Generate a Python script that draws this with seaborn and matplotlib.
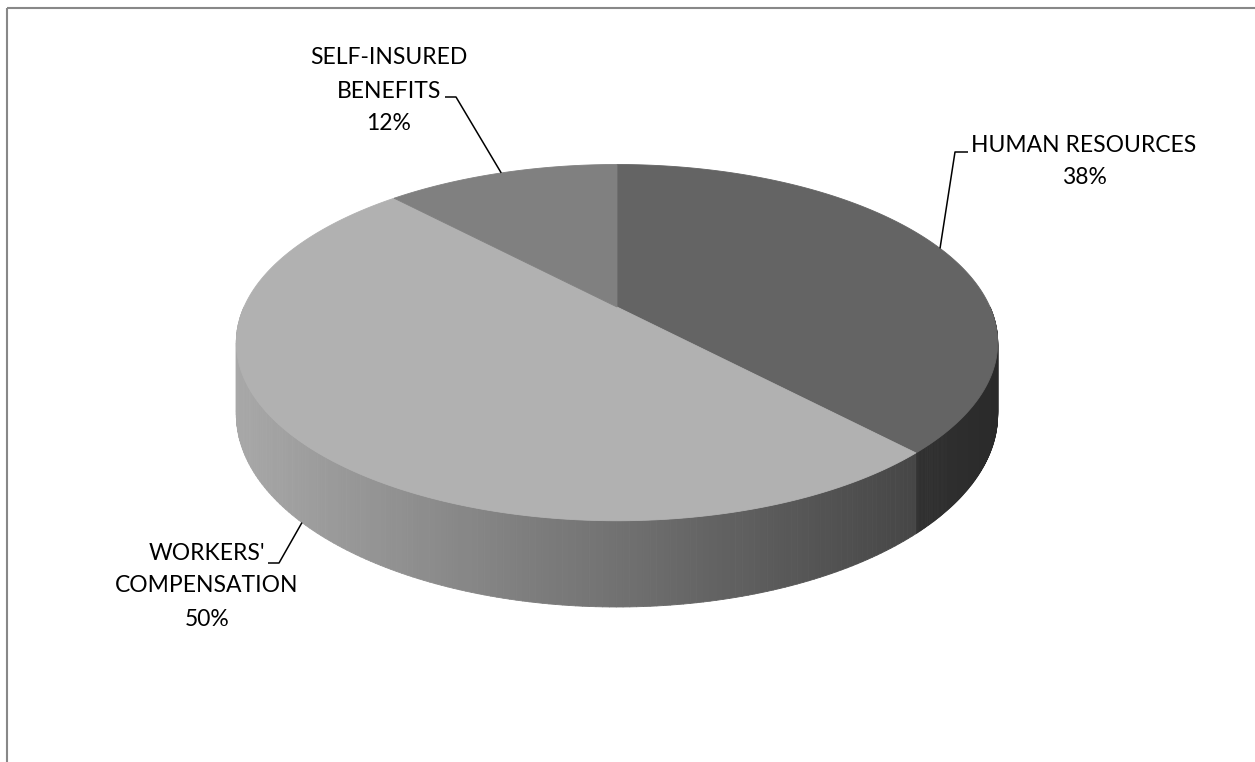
import numpy as np
import matplotlib
matplotlib.use("Agg")
import matplotlib.pyplot as plt
import seaborn as sns
from matplotlib.patches import Polygon, Rectangle
from matplotlib.collections import PolyCollection

# Budget split by program area
categories = ["HUMAN RESOURCES", "WORKERS' COMPENSATION", "SELF-INSURED BENEFITS"]
label_lines = [["HUMAN RESOURCES"], ["WORKERS'", "COMPENSATION"], ["SELF-INSURED", "BENEFITS"]]
shares = [38, 50, 12]

# Styling per slice: top face gray, side gradient (left gray, right gray)
top_colors = ["#646464", "#b1b1b1", "#808080"]
side_grays = [(0x31, 0x2a), (0xa8, 0x46), (0x70, 0x60)]

sns.set_theme(style="white")
plt.rcParams["font.family"] = ["Lato", "DejaVu Sans"]

W, H = 1255, 762
fig = plt.figure(figsize=(W / 100, H / 100), dpi=100)
ax = fig.add_axes([0, 0, 1, 1])
ax.set_xlim(0, W)
ax.set_ylim(H, 0)
ax.axis("off")

# Perspective-projected disc: centre, half-axes, perspective factor, thickness
CX, CY, A, B, K, D0 = 617, 307, 373, 171, 0.2, 69


def top_pt(t):
    s = 1 + K * np.sin(t)
    return CX + A * np.cos(t) / s, CY - B * np.sin(t) / s


def bottom_pt(t):
    x, y = top_pt(t)
    return x, y + D0 / (1 + K * np.sin(t))


total = float(sum(shares))
starts, ends = [], []
acc = 0.0
for v in shares:
    t0 = np.pi / 2 - 2 * np.pi * acc / total
    t1 = t0 - 2 * np.pi * v / total
    starts.append(t0)
    ends.append(t1)
    acc += v

# Side walls (only the front half of the disc is visible)
for i in range(len(shares)):
    lo_s, hi_s = ends[i], starts[i]
    for lo_v, hi_v in [(-np.pi, 0.0), (-3 * np.pi, -2 * np.pi), (np.pi, 2 * np.pi)]:
        lo, hi = max(lo_s, lo_v), min(hi_s, hi_v)
        if hi <= lo:
            continue
        n = 160
        ts = np.linspace(lo, hi, n + 1)
        xs_all = [top_pt(t)[0] for t in ts]
        xmin, xmax = min(xs_all), max(xs_all)
        polys, cols = [], []
        for a, b in zip(ts[:-1], ts[1:]):
            p1, p2 = top_pt(a), top_pt(b)
            q2, q1 = bottom_pt(b), bottom_pt(a)
            polys.append([p1, p2, q2, q1])
            xm = 0.5 * (p1[0] + p2[0])
            f = (xm - xmin) / max(xmax - xmin, 1)
            g = (side_grays[i][0] + f * (side_grays[i][1] - side_grays[i][0])) / 255
            cols.append((g, g, g))
        ax.add_collection(PolyCollection(polys, facecolors=cols, edgecolors=cols,
                                         linewidths=0.6, antialiased=True))

# Top faces
for i in range(len(shares)):
    ts = np.linspace(starts[i], ends[i], 240)
    pts = [(CX, CY)] + [top_pt(t) for t in ts]
    ax.add_patch(Polygon(pts, closed=True, facecolor=top_colors[i],
                         edgecolor=top_colors[i], linewidth=0.6))

# Labels with leader lines
label_cx = [1084, 207, 389]
label_y0 = [145, 553, 58]
line_step = 33
elbows = [(968, 955, 152), (268, 279, 563), (445, 456, 97)]

for i in range(len(shares)):
    lines = label_lines[i] + [f"{shares[i]:.0f}%"]
    for j, s in enumerate(lines):
        ax.text(label_cx[i], label_y0[i] + j * line_step, s, ha="center",
                va="center", fontsize=16.5, color="#000000")
    mid = 0.5 * (starts[i] + ends[i])
    anchor = top_pt(mid) if np.sin(mid) >= 0 else bottom_pt(mid)
    xe, xb, ye = elbows[i]
    ax.plot([xe, xb, anchor[0]], [ye, ye, anchor[1]], color="black",
            linewidth=1.1, solid_capstyle="butt")

# Chart area frame
ax.add_patch(Rectangle((6.5, 7.5), W + 20, H + 20, fill=False,
                       edgecolor="#888888", linewidth=1.5, clip_on=False))

fig.savefig("out.png", dpi=100)
